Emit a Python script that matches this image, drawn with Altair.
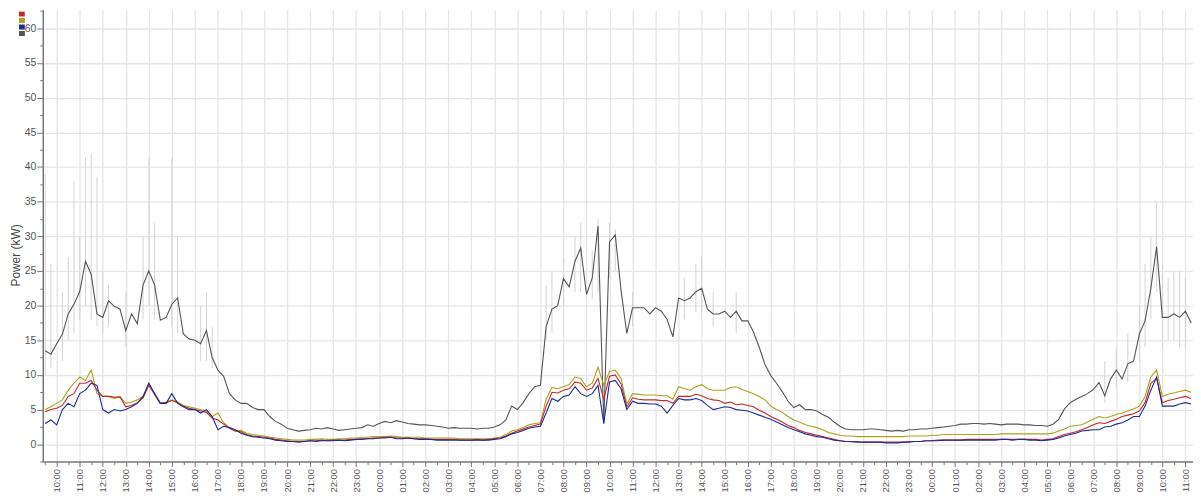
import altair as alt
import pandas as pd

# quarter-hour samples; hours counted from 10:00 on the first day
HOURS = [-0.5 + 0.25 * i for i in range(200)]

TOTAL = [
    13.5, 13.0,
    14.5, 15.9, 18.8, 20.2,   22.0, 26.4, 24.5, 18.8,   18.3, 20.7, 19.9, 19.5,
    16.4, 18.8, 17.4, 23.0,   25.0, 23.0, 17.9, 18.3,   20.2, 21.1, 15.9, 15.2,
    15.0, 14.5, 16.4, 12.5,   10.7, 9.8, 7.3, 6.4,      5.9, 5.9, 5.3, 5.0,
    5.0, 4.0, 3.3, 2.9,       2.3, 2.1, 1.9, 2.0,       2.1, 2.3, 2.2, 2.4,
    2.2, 2.0, 2.1, 2.2,       2.3, 2.4, 2.8, 2.6,       3.0, 3.3, 3.1, 3.4,
    3.2, 3.0, 2.9, 2.8,       2.8, 2.7, 2.6, 2.5,       2.3, 2.4, 2.3, 2.3,
    2.3, 2.2, 2.3, 2.3,       2.5, 2.8, 3.5, 5.5,       5.0, 6.0, 7.3, 8.3,
    8.5, 17.0, 19.5, 20.0,    23.9, 22.7, 26.4, 28.3,   21.6, 24.0, 31.5, 3.0,
    29.2, 30.2, 22.2, 16.0,   19.7, 19.7, 19.7, 18.8,   19.7, 19.2, 18.0, 15.5,
    21.1, 20.7, 21.1, 22.0,   22.5, 19.5, 18.8, 18.8,   19.2, 18.3, 19.2, 17.8,
    17.8, 16.2, 14.0, 11.5,   9.9, 8.8, 7.6, 6.2,       5.3, 5.7, 5.0, 5.0,
    4.8, 4.3, 3.9, 3.2,       2.6, 2.2, 2.1, 2.1,       2.1, 2.2, 2.2, 2.1,
    2.0, 1.9, 2.0, 1.9,       2.1, 2.1, 2.2, 2.2,       2.3, 2.4, 2.5, 2.6,
    2.7, 2.9, 2.9, 3.0,       3.0, 2.9, 3.0, 2.9,       2.8, 2.9, 2.9, 2.9,
    2.8, 2.8, 2.7, 2.7,       2.6, 2.9, 3.6, 5.1,       6.0, 6.5, 6.9, 7.3,
    7.9, 8.9, 7.0, 9.4,       10.7, 9.4, 11.6, 12.0,    15.9, 17.8, 22.5, 28.5,
    18.3, 18.3, 18.8, 18.3,
    19.2, 17.5,
]

L2_OLIVE = [
    5.0, 5.4,
    5.9, 6.4, 7.8, 8.8,   9.7, 9.2, 10.7, 7.3,   6.9, 6.9, 6.6, 6.9,
    5.9, 6.1, 6.4, 6.9,   8.8, 7.3, 5.9, 6.1,    6.4, 6.1, 5.6, 5.4,
    5.2, 5.0, 4.8, 4.0,   4.5, 3.1, 2.4, 1.9,    2.0, 1.6, 1.4, 1.3,
    1.2, 1.0, 0.9, 0.8,   0.7, 0.6, 0.6, 0.6,    0.7, 0.7, 0.8, 0.7,
    0.7, 0.8, 0.8, 0.9,   0.9, 1.0, 1.0, 1.1,    1.1, 1.1, 1.2, 1.1,
    1.0, 1.0, 1.0, 1.0,   0.9, 0.9, 0.9, 0.9,    0.9, 0.9, 0.8, 0.8,
    0.8, 0.8, 0.8, 0.8,   0.9, 1.0, 1.4, 1.9,    2.1, 2.4, 2.8, 3.0,
    3.1, 6.5, 8.2, 8.0,   8.3, 8.6, 9.7, 9.5,    8.3, 8.8, 11.1, 8.5,
    10.5, 10.7, 9.5, 5.8, 7.3, 7.2, 7.1, 7.1,    7.1, 7.0, 7.0, 6.5,
    8.3, 8.0, 7.8, 8.3,   8.6, 8.0, 7.8, 7.8,    7.8, 8.2, 8.3, 7.9,
    7.6, 7.3, 6.9, 6.4,   5.5, 5.0, 4.6, 4.0,    3.5, 3.2, 2.8, 2.6,
    2.4, 2.1, 1.7, 1.5,   1.3, 1.2, 1.2, 1.1,    1.1, 1.1, 1.1, 1.1,
    1.1, 1.1, 1.1, 1.1,   1.2, 1.2, 1.2, 1.2,    1.3, 1.3, 1.4, 1.4,
    1.4, 1.4, 1.4, 1.4,   1.4, 1.4, 1.4, 1.4,    1.5, 1.5, 1.5, 1.5,
    1.5, 1.5, 1.5, 1.5,   1.5, 1.6, 1.9, 2.2,    2.6, 2.7, 2.8, 3.2,
    3.6, 4.0, 3.8, 4.0,   4.3, 4.5, 4.8, 5.1,    5.5, 6.9, 9.7, 10.7,
    6.9, 7.2, 7.4, 7.6,
    7.8, 7.5,
]

L1_RED = [
    4.7, 5.0,
    5.2, 5.6, 6.9, 7.3,   8.8, 8.8, 9.2, 7.8,    6.9, 6.9, 6.8, 6.8,
    5.4, 5.6, 6.0, 6.7,   8.5, 7.2, 5.9, 6.0,    6.3, 6.0, 5.5, 5.2,
    5.0, 4.8, 4.6, 3.8,   3.5, 2.9, 2.3, 1.9,    1.8, 1.4, 1.2, 1.1,
    1.0, 0.9, 0.7, 0.6,   0.5, 0.4, 0.4, 0.4,    0.5, 0.5, 0.6, 0.5,
    0.6, 0.6, 0.6, 0.7,   0.7, 0.8, 0.8, 0.9,    0.9, 1.0, 1.0, 0.9,
    0.9, 0.9, 0.8, 0.8,   0.8, 0.7, 0.7, 0.7,    0.7, 0.7, 0.6, 0.6,
    0.6, 0.7, 0.6, 0.7,   0.8, 0.9, 1.2, 1.6,    1.9, 2.2, 2.5, 2.7,
    2.9, 5.5, 7.5, 7.4,   7.8, 8.0, 9.0, 8.8,    7.8, 8.1, 9.5, 6.5,
    9.8, 10.0, 8.7, 5.4,  6.7, 6.5, 6.4, 6.4,    6.4, 6.3, 6.3, 5.9,
    6.9, 6.9, 6.9, 7.2,   7.0, 6.6, 6.4, 6.3,    5.9, 6.1, 5.7, 5.8,
    5.6, 5.4, 4.9, 4.5,   4.0, 3.6, 3.2, 2.7,    2.4, 2.0, 1.7, 1.5,
    1.3, 1.1, 0.9, 0.7,   0.5, 0.4, 0.4, 0.4,    0.3, 0.3, 0.3, 0.3,
    0.3, 0.3, 0.3, 0.3,   0.4, 0.4, 0.4, 0.5,    0.5, 0.6, 0.6, 0.6,
    0.6, 0.6, 0.7, 0.7,   0.7, 0.7, 0.7, 0.7,    0.7, 0.7, 0.7, 0.7,
    0.7, 0.7, 0.7, 0.6,   0.7, 0.8, 1.1, 1.4,    1.6, 1.8, 2.1, 2.4,
    2.8, 3.1, 3.0, 3.3,   3.6, 4.0, 4.2, 4.4,    4.8, 6.0, 8.8, 9.5,
    6.0, 6.3, 6.5, 6.7,
    6.9, 6.6,
]

L3_BLUE = [
    3.0, 3.5,
    2.8, 5.0, 5.9, 5.4,   7.3, 7.8, 8.8, 8.5,    5.0, 4.5, 5.0, 4.8,
    5.0, 5.4, 5.9, 6.9,   8.8, 7.3, 5.9, 5.9,    7.3, 5.9, 5.4, 5.0,
    5.0, 4.5, 5.0, 4.0,   2.1, 2.6, 2.4, 2.1,    1.6, 1.3, 1.1, 1.0,
    0.9, 0.8, 0.6, 0.5,   0.4, 0.4, 0.3, 0.4,    0.5, 0.4, 0.5, 0.5,
    0.5, 0.6, 0.5, 0.6,   0.7, 0.7, 0.8, 0.8,    0.9, 0.9, 1.0, 0.8,
    0.8, 0.9, 0.8, 0.7,   0.7, 0.7, 0.6, 0.6,    0.6, 0.6, 0.6, 0.6,
    0.6, 0.6, 0.6, 0.6,   0.7, 0.8, 1.1, 1.5,    1.7, 2.0, 2.3, 2.5,
    2.6, 4.5, 6.6, 6.2,   6.9, 7.1, 8.3, 7.3,    6.9, 7.3, 8.5, 3.0,
    9.0, 9.2, 8.0, 5.0,   6.2, 5.9, 5.9, 5.8,    5.8, 5.5, 4.5, 5.6,
    6.6, 6.4, 6.4, 6.6,   6.3, 5.6, 5.0, 5.2,    5.4, 5.3, 5.0, 4.9,
    4.8, 4.5, 4.2, 3.9,   3.6, 3.2, 2.8, 2.4,    2.1, 1.8, 1.5, 1.3,
    1.1, 1.0, 0.8, 0.6,   0.5, 0.4, 0.35, 0.3,   0.3, 0.3, 0.3, 0.3,
    0.2, 0.2, 0.2, 0.3,   0.3, 0.4, 0.4, 0.5,    0.5, 0.5, 0.6, 0.6,
    0.6, 0.6, 0.6, 0.6,   0.6, 0.6, 0.6, 0.6,    0.7, 0.7, 0.6, 0.7,
    0.7, 0.6, 0.6, 0.5,   0.6, 0.7, 0.9, 1.2,    1.4, 1.6, 1.9, 2.0,
    2.1, 2.1, 2.5, 2.6,   2.9, 3.1, 3.5, 4.0,    4.0, 5.5, 7.8, 9.7,
    5.5, 5.5, 5.5, 5.8,
    6.0, 5.8,
]

# short-lived peaks of the total (light grey envelope)
SPIKE_T = [-0.5, -0.25, 0.25, 0.5, 0.75, 1.0, 1.25, 1.5, 1.75, 2.0, 2.25, 3.0,
           3.75, 4.0, 4.25, 5.0, 5.25, 6.25, 6.5, 6.75,
           21.25, 21.5, 22.0, 22.5, 22.75, 23.25, 23.5, 24.0, 24.25, 25.0,
           27.25, 27.75, 28.0, 28.5, 29.5,
           45.5, 46.0, 46.5, 47.0, 47.25, 47.5, 47.75, 48.0, 48.25, 48.5,
           48.75, 49.0]
SPIKE_LO = [10, 11, 12, 15, 16, 18, 20, 18, 17, 16, 17, 14,
            18, 20, 18, 17, 16, 12, 12, 11,
            15, 16, 20, 22, 22, 21, 22, 24, 25, 17,
            18, 19, 19, 17, 16,
            6, 8, 9, 12, 14, 18, 22, 14, 15, 15,
            14, 14]
SPIKE_HI = [39, 26, 22, 27, 38, 30, 41.4, 41.9, 38.6, 25, 23, 22,
            30, 41.4, 32, 41.4, 30, 20, 22, 17,
            23, 25, 27, 30, 32, 28, 32.5, 32, 31, 22,
            24, 26, 27, 22, 22,
            12, 14, 16, 20, 26, 30, 35, 26, 24, 25,
            25, 24]

SERIES = ["L1", "L2", "L3", "Total"]
COLORS = ["#c62828", "#a8a21c", "#1c2a96", "#555555"]

for s in (TOTAL, L2_OLIVE, L1_RED, L3_BLUE):
    assert len(s) == len(HOURS), len(s)

rows = []
for name, vals in [("Total", TOTAL), ("L2", L2_OLIVE), ("L1", L1_RED), ("L3", L3_BLUE)]:
    for h, v in zip(HOURS, vals):
        rows.append({"hour": h, "kw": v, "series": name})
df = pd.DataFrame(rows)
spikes = pd.DataFrame({"hour": SPIKE_T, "lo": SPIKE_LO, "hi": SPIKE_HI})

X_DOMAIN = [-0.604, 49.33]
Y_DOMAIN = [-2.5, 62.7]

x_label = ("datum.value % 1 !== 0 ? '' : "
           "((((datum.value + 10) % 24) < 10 ? '0' : '') + ((datum.value + 10) % 24) + ':00')")

x_axis = alt.Axis(
    values=[-0.5 + 0.5 * k for k in range(100)],
    labelExpr=x_label,
    labelAngle=-90,
    labelFontSize=9.5,
    labelFont="Liberation Sans",
    labelColor="#555555",
    labelPadding=2,
    labelFlush=False,
    labelOverlap=False,
    tickColor="#777777",
    tickSize={"condition": {"test": "datum.value % 1 === 0", "value": 5}, "value": 3},
    domainColor="#777777",
    domainWidth=1.5,
    gridColor="#e6e6e6",
    gridWidth=1.3,
    gridOpacity={"condition": {"test": "datum.value % 1 === 0", "value": 1}, "value": 0},
    title=None,
)

y_axis = alt.Axis(
    values=[-2.5 + 2.5 * k for k in range(27)],
    labelExpr="datum.value % 5 === 0 ? datum.value : ''",
    labelFontSize=10.5,
    labelFont="Liberation Sans",
    labelColor="#555555",
    labelPadding=1,
    labelFlush=False,
    labelOverlap=False,
    tickColor="#777777",
    tickSize={"condition": {"test": "datum.value % 5 === 0", "value": 6}, "value": 3},
    domainColor="#777777",
    domainWidth=1.5,
    gridColor="#e6e6e6",
    gridWidth=1.3,
    gridOpacity={"condition": {"test": "datum.value % 5 === 0 && datum.value >= 0", "value": 1}, "value": 0},
    title="Power (kW)",
    titleFont="Liberation Sans",
    titleFontSize=12,
    titleFontWeight="normal",
    titleColor="#444444",
    titlePadding=2,
    titleY=247,
)

x_enc = alt.X("hour:Q", scale=alt.Scale(domain=X_DOMAIN, nice=False, zero=False), axis=x_axis)

envelope = alt.Chart(spikes).mark_rule(color="#d4d4d4", strokeWidth=1, clip=True).encode(
    x=x_enc,
    y=alt.Y("lo:Q", scale=alt.Scale(domain=Y_DOMAIN, nice=False, zero=False), axis=y_axis),
    y2="hi:Q",
)

lines = alt.Chart(df).mark_line(strokeWidth=1.1, clip=True).encode(
    x=x_enc,
    y=alt.Y("kw:Q", scale=alt.Scale(domain=Y_DOMAIN, nice=False, zero=False), axis=y_axis),
    color=alt.Color(
        "series:N",
        scale=alt.Scale(domain=SERIES, range=COLORS),
        legend=alt.Legend(
            orient="none", legendX=-24, legendY=2, title=None,
            symbolType="square", symbolSize=6, symbolStrokeWidth=3.5,
            labelExpr="''", labelFontSize=1, labelLimit=1,
            rowPadding=1.5, clipHeight=5, padding=0,
            symbolOffset=0, labelOffset=0,
        ),
    ),
    detail="series:N",
)

chart = (
    alt.layer(envelope, lines)
    .properties(
        width=1158,
        height=455,
        autosize="none",
        padding={"left": 35, "top": 0, "right": 0, "bottom": 31},
        background="white",
    )
    .configure_view(stroke=None)
)

chart.save("out.html", embed_options={"renderer": "svg", "actions": False})
